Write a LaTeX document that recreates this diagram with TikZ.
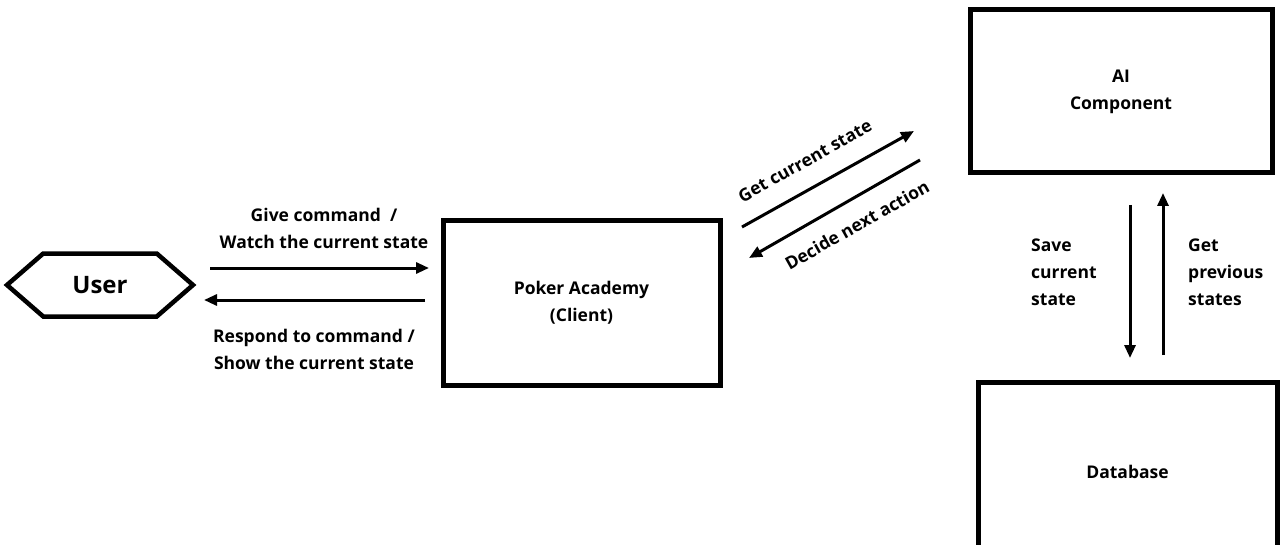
\documentclass[tikz,border=0pt]{standalone}
\usepackage{fontspec}
\setmainfont{Open Sans}
\usetikzlibrary{shapes.symbols,arrows.meta}

\begin{document}
\begin{tikzpicture}[x=1pt,y=1pt]
\tikzstyle{every node}+=[inner sep=0pt, align=center, font=\bfseries\fontsize{17.5}{27}\selectfont]
\tikzstyle{box}=[draw, line width=5pt]
\tikzstyle{flow}=[line width=3pt, -{Triangle[length=13pt,width=11pt]}]
\useasboundingbox (0,0) rectangle (1281,-545);
\clip (0,0) rectangle (1281,-545);
% blocks
\node [draw, line width=4.5pt, shape=signal, signal to=west and east, signal pointer angle=82,
  minimum width=186pt, minimum height=63pt, font=\bfseries\fontsize{24}{28}\selectfont] (user) at (100,-285) {User};
\node [box, minimum width=277pt, minimum height=164pt] (client) at (581.5,-303) {Poker Academy\\(Client)};
\node [box, minimum width=302pt, minimum height=163pt] (ai) at (1121,-91.5) {AI\\Component};
\node [box, minimum width=299pt, minimum height=180pt] (db) at (1127.5,-472) {Database};
% arrow ends
\coordinate (u1) at (210,-268);
\coordinate (c1) at (429,-268);
\coordinate (c2) at (425,-300);
\coordinate (u2) at (204,-300);
\coordinate (c3) at (742,-227);
\coordinate (a3) at (914,-131);
\coordinate (a4) at (920,-160);
\coordinate (c4) at (749,-258);
\coordinate (a5) at (1130,-205);
\coordinate (d5) at (1130,-358);
\coordinate (d6) at (1163,-355);
\coordinate (a6) at (1163,-193);
% connectors
\draw [flow] (u1) -- (c1);
\draw [flow] (c2) -- (u2);
\draw [flow] (c3) -- (a3);
\draw [flow] (a4) -- (c4);
\draw [flow] (a5) -- (d5);
\draw [flow] (d6) -- (a6);
% labels
\node (give) at (324,-228) {Give command~~/\\Watch the current state};
\node (resp) at (314,-349) {Respond to command /\\Show the current state};
\node [rotate=29.3] (get) at (805,-161) {Get current state};
\node [rotate=29.3] (decide) at (857,-225) {Decide next action};
\node [anchor=west, align=left] (save) at (1031,-272) {Save\\current\\state};
\node [anchor=west, align=left] (prev) at (1188,-272) {Get\\previous\\states};
\end{tikzpicture}
\end{document}
